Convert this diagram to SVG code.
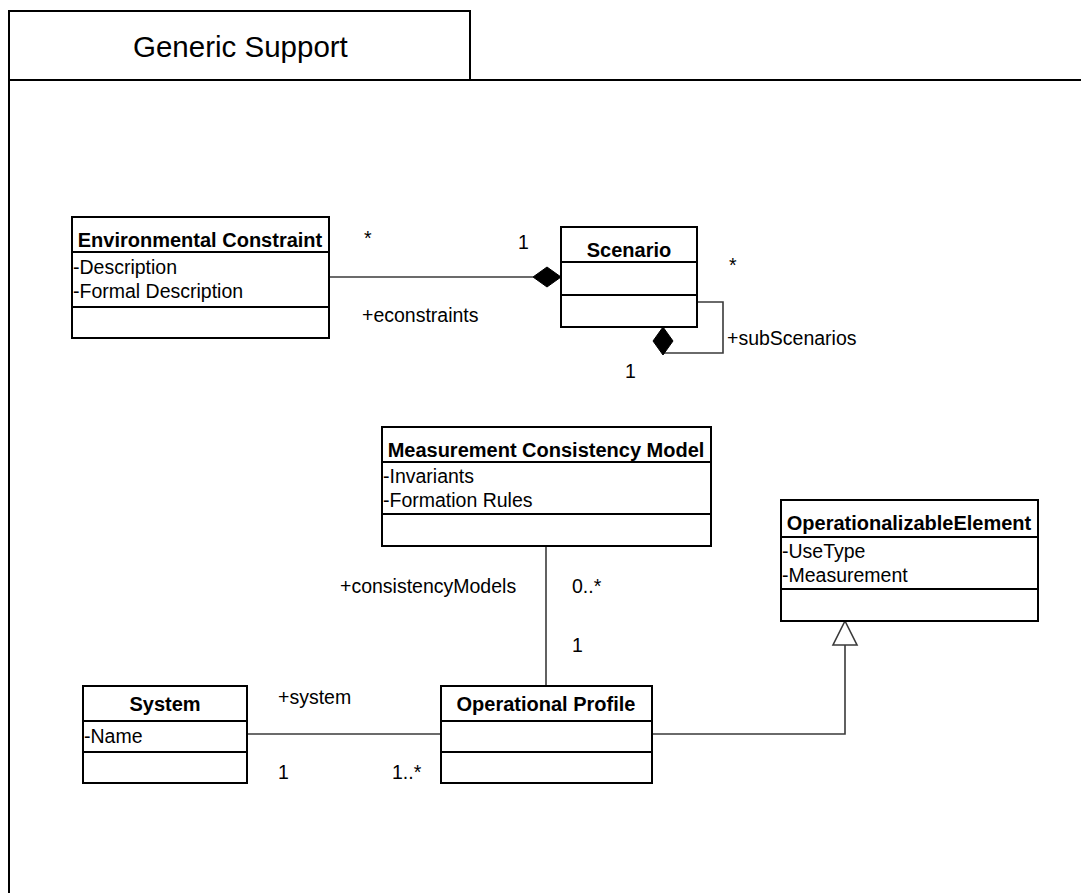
<svg xmlns="http://www.w3.org/2000/svg" width="1081" height="893" viewBox="0 0 1081 893">
  <style>
    .box { fill: #ffffff; stroke: #000000; stroke-width: 2; }
    .sep { stroke: #000000; stroke-width: 2; }
    .frame { fill: none; stroke: #000000; stroke-width: 2; }
    .conn { fill: none; stroke: #3a3a3a; stroke-width: 1.6; }
    .title { font-family: "Liberation Sans", Arial, sans-serif; font-weight: bold; font-size: 20px; fill: #000; text-anchor: middle; }
    .attr { font-family: "Liberation Sans", Arial, sans-serif; font-size: 19.5px; fill: #000; }
    .lbl { font-family: "Liberation Sans", Arial, sans-serif; font-size: 19.5px; fill: #000; }
    .pkg { font-family: "Liberation Sans", Arial, sans-serif; font-size: 29.5px; fill: #000; }
    .diamond { fill: #000000; stroke: #000000; stroke-width: 1; }
    .tri { fill: #ffffff; stroke: #3a3a3a; stroke-width: 1.6; }
  </style>

  <rect width="1081" height="893" fill="#ffffff"/>

  <!-- package frame with name tab -->
  <g id="package">
    <rect class="frame" x="9" y="11" width="461" height="69"/>
    <path class="frame" d="M9 80 H1081 M9 80 V893"/>
    <text class="pkg" x="133" y="57">Generic Support</text>
  </g>

  <!-- associations and generalization -->
  <g id="connectors">
    <line class="conn" x1="329" y1="277" x2="533" y2="277"/>
    <polygon class="diamond" points="561,277 547,267 533,277 547,287"/>
    <polyline class="conn" points="697,302 723,302 723,353 663,353"/>
    <polygon class="diamond" points="663,327 673,341 663,355 653,341"/>
    <line class="conn" x1="546" y1="546" x2="546" y2="686"/>
    <line class="conn" x1="247" y1="734" x2="441" y2="734"/>
    <polyline class="conn" points="652,734 845,734 845,645"/>
    <polygon class="tri" points="845,621 857,645 833,645"/>
  </g>

  <!-- association end labels -->
  <g id="labels">
    <text class="lbl" x="364" y="245">*</text>
    <text class="lbl" x="518" y="249">1</text>
    <text class="lbl" x="362" y="322">+econstraints</text>
    <text class="lbl" x="729" y="272">*</text>
    <text class="lbl" x="727" y="345">+subScenarios</text>
    <text class="lbl" x="625" y="378">1</text>
    <text class="lbl" x="340" y="593">+consistencyModels</text>
    <text class="lbl" x="572" y="593">0..*</text>
    <text class="lbl" x="572" y="652">1</text>
    <text class="lbl" x="278" y="704">+system</text>
    <text class="lbl" x="278" y="779">1</text>
    <text class="lbl" x="392" y="779">1..*</text>
  </g>

  <g id="environmental-constraint">
    <rect class="box" x="72" y="217" width="257" height="121"/>
    <line class="sep" x1="72" y1="252" x2="329" y2="252"/>
    <line class="sep" x1="72" y1="307" x2="329" y2="307"/>
    <text class="title" x="200" y="247">Environmental Constraint</text>
    <text class="attr" x="73" y="274">-Description</text>
    <text class="attr" x="73" y="298">-Formal Description</text>
  </g>

  <g id="scenario">
    <rect class="box" x="561" y="227" width="136" height="100"/>
    <line class="sep" x1="561" y1="262" x2="697" y2="262"/>
    <line class="sep" x1="561" y1="295" x2="697" y2="295"/>
    <text class="title" x="629" y="257">Scenario</text>
  </g>

  <g id="measurement-consistency-model">
    <rect class="box" x="382" y="427" width="329" height="119"/>
    <line class="sep" x1="382" y1="462" x2="711" y2="462"/>
    <line class="sep" x1="382" y1="514" x2="711" y2="514"/>
    <text class="title" x="546" y="457">Measurement Consistency Model</text>
    <text class="attr" x="383" y="483">-Invariants</text>
    <text class="attr" x="383" y="507">-Formation Rules</text>
  </g>

  <g id="operationalizable-element">
    <rect class="box" x="781" y="500" width="257" height="121"/>
    <line class="sep" x1="781" y1="537" x2="1038" y2="537"/>
    <line class="sep" x1="781" y1="589" x2="1038" y2="589"/>
    <text class="title" x="909" y="530">OperationalizableElement</text>
    <text class="attr" x="782" y="558">-UseType</text>
    <text class="attr" x="782" y="582">-Measurement</text>
  </g>

  <g id="system">
    <rect class="box" x="83" y="686" width="164" height="97"/>
    <line class="sep" x1="83" y1="721" x2="247" y2="721"/>
    <line class="sep" x1="83" y1="752" x2="247" y2="752"/>
    <text class="title" x="165" y="711">System</text>
    <text class="attr" x="84" y="743">-Name</text>
  </g>

  <g id="operational-profile">
    <rect class="box" x="441" y="686" width="211" height="97"/>
    <line class="sep" x1="441" y1="721" x2="652" y2="721"/>
    <line class="sep" x1="441" y1="752" x2="652" y2="752"/>
    <text class="title" x="546" y="711">Operational Profile</text>
  </g>
</svg>
